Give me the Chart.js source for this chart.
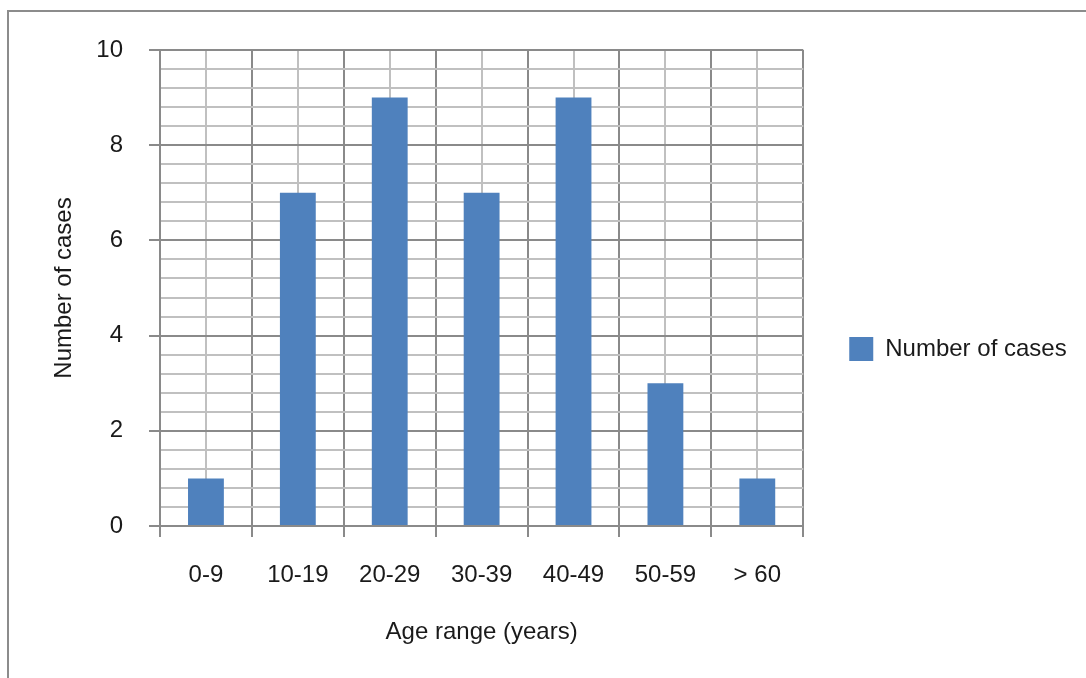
<!DOCTYPE html>
<html lang="en">
<head>
<meta charset="utf-8">
<script src="https://cdn.jsdelivr.net/npm/chart.js@4.4.1/dist/chart.umd.min.js"></script>
<style>
  html, body { margin: 0; padding: 0; background: #fff; overflow: hidden; }
  .wrap { position: relative; width: 1086px; height: 678px; }
  .frame {
    position: absolute; left: 7px; top: 10px; right: -10px; bottom: -10px;
    border-left: 2px solid #8c8c8c; border-top: 2px solid #8c8c8c;
    pointer-events: none;
  }
</style>
</head>
<body>
<div class="wrap">
  <canvas id="ageChart" width="1086" height="678"></canvas>
  <div class="frame"></div>
</div>
<script>
  // ---------------------------------------------------------------
  // Data
  // ---------------------------------------------------------------
  const ageRanges = ["0-9", "10-19", "20-29", "30-39", "40-49", "50-59", "> 60"];
  const caseCounts = [1, 7, 9, 7, 9, 3, 1];
  const seriesName = "Number of cases";
  const yTitle = "Number of cases";
  const xTitle = "Age range (years)";

  const FONT = "'Liberation Sans', Arial, Helvetica, sans-serif";
  const DARK = "#8a8a8a";
  const LIGHT = "#c0c0c0";

  function isMajor(v) {
    return Math.abs(v / 2 - Math.round(v / 2)) < 1e-6;
  }

  const ctx = document.getElementById("ageChart").getContext("2d");

  new Chart(ctx, {
    type: "bar",
    data: {
      labels: ageRanges,
      datasets: [{
        label: seriesName,
        data: caseCounts,
        backgroundColor: "#4f81bd",
        borderWidth: 0,
        barPercentage: 0.39,
        categoryPercentage: 1.0
      }]
    },
    options: {
      responsive: false,
      animation: false,
      devicePixelRatio: 1,
      layout: { padding: { left: 0, top: 20, right: 15, bottom: 0 } },
      plugins: {
        tooltip: { enabled: false },
        legend: {
          position: "right",
          labels: {
            boxWidth: 24,
            boxHeight: 24,
            padding: 46,
            color: "#1a1a1a",
            font: { family: FONT, size: 24 }
          }
        }
      },
      scales: {
        x: {
          type: "category",
          offset: true,
          afterFit: s => { s.height = 152; },
          grid: {
            offset: true,
            color: DARK,
            lineWidth: 2,
            tickLength: 11,
            tickColor: DARK
          },
          border: { display: true, color: DARK, width: 2 },
          ticks: {
            padding: 24,
            color: "#1a1a1a",
            font: { family: FONT, size: 24 }
          },
          title: {
            display: true,
            text: xTitle,
            color: "#1a1a1a",
            font: { family: FONT, size: 24 },
            padding: { top: 0, bottom: 31 }
          }
        },
        x2: {
          type: "category",
          position: "top",
          offset: true,
          afterFit: s => { s.height = 30; },
          grid: {
            offset: false,
            color: LIGHT,
            lineWidth: 2,
            drawTicks: false
          },
          border: { display: false },
          ticks: { display: false }
        },
        y: {
          type: "linear",
          min: 0,
          max: 10,
          afterFit: s => { s.width = 160; },
          grid: {
            color: c => (c.tick && isMajor(c.tick.value)) ? DARK : LIGHT,
            tickColor: c => (c.tick && isMajor(c.tick.value)) ? DARK : "rgba(0,0,0,0)",
            lineWidth: 2,
            tickLength: 11
          },
          border: { display: true, color: DARK, width: 2 },
          ticks: {
            stepSize: 0.4,
            autoSkip: false,
            padding: 26,
            color: "#1a1a1a",
            font: { family: FONT, size: 24 },
            callback: v => isMajor(v) ? String(Math.round(v)) : ""
          },
          title: {
            display: true,
            text: yTitle,
            color: "#1a1a1a",
            font: { family: FONT, size: 24 },
            padding: { top: 50, bottom: 0 }
          }
        }
      }
    }
  });
</script>
</body>
</html>
